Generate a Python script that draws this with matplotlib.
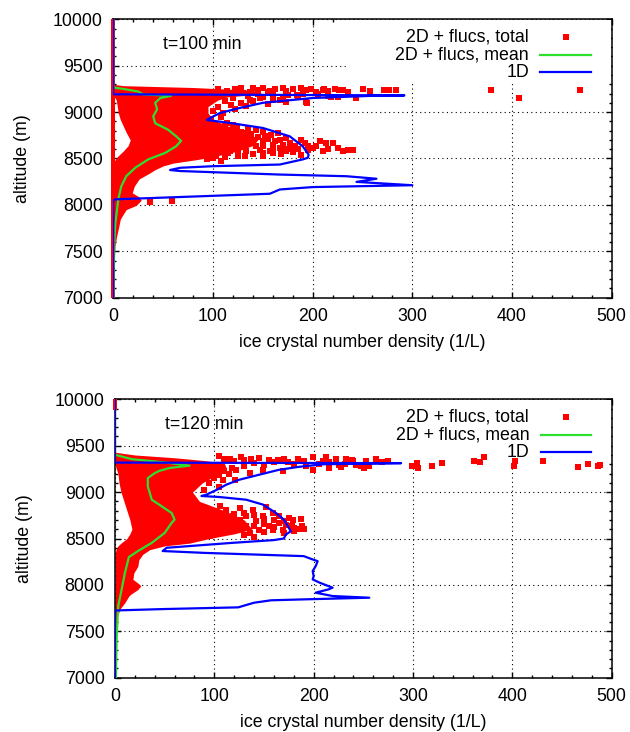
import matplotlib
matplotlib.use('Agg')
import matplotlib.pyplot as plt
from matplotlib.patches import Rectangle
from matplotlib.ticker import MultipleLocator

plt.rcParams['font.family'] = ['Liberation Sans', 'DejaVu Sans']
plt.rcParams['font.size'] = 12.8

RED = '#ff0000'
GREEN = '#2ee02e'
BLUE = '#0000ff'

# ---------------- panel labels ----------------
panel_titles = ['t=100 min', 't=120 min']
legend_labels = ['2D + flucs, total', '2D + flucs, mean', '1D']

# ---------------- top panel (t=100 min) ----------------
# dense part of the "2D + flucs, total" point cloud (envelope, altitude in m)
top_env_alt = [10000, 9300, 9285, 9265, 9235, 9195, 9165, 9130, 9060, 8990, 8920, 8850,
               8780, 8700, 8640, 8580, 8530, 8490, 8450, 8420, 8380, 8340, 8280, 8200,
               8130, 8085, 8050, 7995, 7950, 7900, 7845, 7740, 7665, 7560, 7400, 7000]
top_env_left = [0, 0, 0, 0, 0, 0, 1, 3, 4, 5, 7, 10, 13, 17, 15, 10, 5, 2] + [0] * 18
top_env_right = [0, 0, 10, 80, 140, 150, 115, 105, 95, 95, 100, 115, 135, 145, 140, 125, 105, 85,
                 60, 50, 42, 36, 26, 21, 19, 26, 28, 23, 13, 10, 7, 5, 3.4, 1.7, 1, 1]
top_strip_alt = [7000, 10000]

# scattered points of the total
top_pts_x = [105.2, 113.6, 121.9, 137, 145.3, 155.3, 173.7, 193.7, 203.7, 210.4, 222.1, 230.5,
             235.5, 243.8, 218.8, 193.7, 173.7, 155.3, 167, 137, 133.6, 121.9, 110.2, 147,
             123.6, 133.6, 143.6, 152, 158.7, 167, 173.7, 177, 182, 167, 157, 150.3, 143.6,
             137, 130.3, 120.2, 113.6, 117, 133.6, 147, 173.7, 192, 195.4, 203.7, 207.1,
             213.8, 220.4, 210.4, 230.5, 235.5, 240.5, 188.7, 160.3, 132, 125.3, 103.5, 93.5,
             113.6, 103.5, 150.3, 160.3,
             272, 277, 284, 379, 407.5, 468, 211, 194, 184, 157, 122.5, 36.8, 58.5,
             128, 140, 150, 162, 170, 180, 188, 198, 215, 226, 250, 258, 190, 175, 160, 145,
             130, 205, 215, 225, 185, 170, 160, 140, 128, 118, 150, 135, 120, 112, 105, 100,
             108, 98,
             112, 118, 128, 138, 145, 155, 162, 170, 178, 185, 160, 150, 140, 128, 122, 115,
             125, 140, 150, 168, 175, 195, 200, 188, 165, 150, 135, 120, 112, 100, 108, 180,
             215, 225]
top_pts_alt = [9248, 9223, 9248, 9212, 9233, 9212, 9223, 9233, 9212, 9241, 9248, 9233,
               9212, 9151, 9162, 9105, 9105, 9090, 9133, 9133, 9062, 9033, 8990, 9151,
               8829, 8775, 8811, 8739, 8757, 8704, 8722, 8668, 8632, 8614, 8578, 8560, 8632,
               8686, 8722, 8668, 8632, 8578, 8578, 8596, 8578, 8668, 8632, 8632, 8686,
               8668, 8668, 8578, 8578, 8596, 8589, 8543, 8560, 8525, 8525, 8525, 8496,
               8883, 8811, 8686, 8650,
               9241, 9234, 9241, 9233, 9147, 9233, 9248, 9098, 9187, 9230, 9248, 8034, 8041,
               9262, 9255, 9265, 9250, 9258, 9245, 9262, 9250, 9226, 9240, 9244, 9225, 9195,
               9180, 9200, 9190, 9210, 9190, 9175, 9165, 9160, 9150, 9130, 9120, 9100, 9080,
               9160, 9170, 9150, 9120, 9050, 9010, 8950, 8930,
               8850, 8800, 8790, 8760, 8730, 8710, 8690, 8650, 8640, 8600, 8610, 8640, 8700,
               8740, 8620, 8560, 8560, 8545, 8530, 8545, 8600, 8590, 8610, 8700, 8770, 8790,
               8830, 8860, 8520, 8500, 8470, 8570, 8600, 8610]

# mean of 2D + flucs
top_mean_alt = [10000, 9265, 9250, 9222, 9190, 9176, 9150, 9100, 9030, 8955, 8880, 8810, 8740,
                8690, 8632, 8560, 8490, 8400, 8310, 8200, 8060, 7916, 7800, 7600, 7300, 7000]
top_mean_x = [0, 0, 10, 25, 30, 58, 47, 42, 44, 40, 42, 55, 63,
              68, 63, 52, 35, 22, 13, 8, 5, 3.4, 2, 1, 0.5, 0.3]

# 1D model
top_1d_alt = [10000, 9192, 9180, 9178, 9152, 9100, 9045, 8990, 8930, 8915, 8883, 8829, 8739,
              8632, 8540, 8507, 8490, 8435, 8417, 8400, 8376, 8365, 8327, 8309, 8282, 8248,
              8212, 8192, 8166, 8120, 8085, 8060, 8045, 7000]
top_1d_x = [0, 0, 292, 267, 200, 150, 127, 107, 96, 94, 117, 150, 177,
            190, 196, 195, 190, 167, 100, 67, 57, 67, 167, 234, 264, 244,
            300, 200, 167, 157, 67, 2, 0, 0]

# ---------------- bottom panel (t=120 min) ----------------
bot_env_alt = [10000, 9760, 9430, 9400, 9370, 9340, 9310, 9260, 9200, 9100, 9000, 8900,
               8800, 8700, 8600, 8550, 8500, 8450, 8420, 8380, 8330, 8270, 8200, 8130,
               8060, 8020, 7990, 7950, 7900, 7880, 7810, 7740, 7665, 7560, 7400, 7000]
bot_env_left = [0, 0, 0, 0, 0, 0, 0, 1, 3, 4, 6, 9, 12, 15, 17, 15, 12, 6, 3, 1] + [0] * 16
bot_env_right = [0, 0, 0, 20, 60, 90, 110, 112, 105, 88, 78, 85, 110, 130, 138, 120, 95, 75,
                 50, 35, 28, 24, 23, 19, 18, 23, 26, 23, 16, 14, 10, 5, 2.7, 1.7, 1.2, 1]
bot_strip_alt = [9880, 10000]

bot_pts_x = [105, 115.4, 127, 137, 155.5, 163.8, 173.9, 183.9, 199, 209, 222.3, 232.4, 239,
             252.4, 262.5, 192, 199, 168.8, 148.8, 135.4, 122, 108.7, 120.4,
             242.4, 247.4, 250.7, 252.4, 255.8, 262.5, 269.2, 275.2, 299, 304.3, 305.3, 319.3,
             329.3, 361, 367.7, 371, 401.2, 402.9, 431.3, 465.7, 476.4, 486.4, 488,
             105.3, 125.4, 138.8, 152.1, 148.8, 158.8, 165.5, 175.5, 178.9, 187.2, 180.5,
             185.5, 165.5, 155.5, 145.4, 132, 125.4, 118.7, 115.4, 98.6, 95.3, 108.7, 135.4,
             158.8, 168.8, 172.2, 142.1, 132, 112, 102, 100, 95, 105, 90,
             110, 120, 130, 140, 145, 160, 170, 180, 190, 205, 215, 225, 240, 212, 150, 130,
             118, 110, 115, 105, 215, 228, 232,
             112, 120, 130, 140, 150, 160, 170, 118, 128, 140, 150, 160, 170, 180, 190, 110,
             122, 130, 140, 150, 105, 100, 178, 188]
bot_pts_alt = [9384, 9355, 9377, 9355, 9348, 9341, 9319, 9355, 9377, 9330, 9355, 9355, 9348,
               9276, 9355, 9276, 9240, 9223, 9240, 9205, 9240, 9133, 9133,
               9294, 9276, 9259, 9337, 9276, 9348, 9323, 9330, 9276, 9312, 9259, 9284,
               9312, 9330, 9319, 9373, 9284, 9337, 9330, 9266, 9302, 9276, 9287,
               8847, 8829, 8811, 8840, 8740, 8775, 8740, 8722, 8704, 8711, 8614,
               8603, 8668, 8632, 8596, 8632, 8704, 8740, 8578, 8543, 8525, 8560, 8560,
               8596, 8596, 8650, 8686, 8740, 8811, 8775, 9150, 9100, 9060, 9020,
               9360, 9330, 9345, 9310, 9370, 9320, 9360, 9300, 9340, 9300, 9320, 9290, 9330,
               9375, 9290, 9280, 9260, 9230, 9200, 9180, 9265, 9270, 9300,
               8800, 8760, 8780, 8750, 8710, 8700, 8690, 8670, 8650, 8640, 8660, 8620, 8560,
               8580, 8600, 8600, 8590, 8540, 8520, 8570, 8700, 8650, 8640, 8640]

bot_mean_alt = [10000, 9402, 9380, 9355, 9320, 9285, 9260, 9230, 9205, 9151, 9062, 8990, 8918,
                8847, 8775, 8704, 8668, 8560, 8453, 8364, 8300, 8131, 7952, 7773, 7665, 7415,
                7057, 7000]
bot_mean_x = [0, 0, 8, 17, 50, 75, 55, 45, 40, 33, 33, 35, 37,
              47, 57, 60, 57, 50, 37, 23, 14, 10, 6.7, 3.3, 2.7, 1.7, 1, 0.8]

bot_1d_alt = [10000, 9318, 9312, 9300, 9272, 9240, 9187, 9133, 9080, 9033, 8972, 8958, 8947,
              8918, 8865, 8775, 8704, 8614, 8578, 8543, 8500, 8483, 8453, 8400, 8365, 8345,
              8310, 8274, 8256, 8202, 8149, 8095, 8059, 8024, 7970, 7952, 7916, 7880, 7862,
              7844, 7834, 7808, 7758, 7740, 7725, 7715, 7000]
bot_1d_x = [0, 0, 288, 210, 185, 165, 145, 125, 112, 104, 92, 87, 105,
            132, 149, 162, 170, 175, 177, 172, 170, 160, 118, 52, 48, 90,
            190, 199, 204, 202, 199, 200, 199, 206, 219, 215, 202, 219, 256,
            190, 157, 140, 124, 50, 2, 0, 0]

x_ticks = [0, 100, 200, 300, 400, 500]
y_ticks = [7000, 7500, 8000, 8500, 9000, 9500, 10000]

fig = plt.figure(figsize=(6.3, 7.32), dpi=100)
ax_top = fig.add_axes([113.3 / 630, 1 - 297.7 / 732, (611.7 - 113.3) / 630, 278.4 / 732])
ax_bot = fig.add_axes([115.0 / 630, 1 - 677.7 / 732, (611.7 - 115.0) / 630, 278.4 / 732])


def draw_panel(ax, title, env_alt, env_l, env_r, strip_alt, px, palt, m_x, m_alt, d_x, d_alt):
    ax.set_axisbelow(True)
    # cloud of total values
    ax.fill_betweenx(env_alt, env_l, env_r, color=RED, lw=0, zorder=2)
    ax.fill_betweenx(strip_alt, -2.2, 2.2, color=RED, lw=0, zorder=3, clip_on=False)
    ax.plot(px, palt, 's', ms=3.8, mew=0, color=RED, zorder=2)
    ax.plot(m_x, m_alt, color=GREEN, lw=1.6, zorder=3.2)
    ax.plot(d_x, d_alt, color=BLUE, lw=1.6, zorder=4)

    ax.set_xlim(0, 500)
    ax.set_ylim(7000, 10000)
    ax.set_xticks(x_ticks)
    ax.set_yticks(y_ticks)
    ax.xaxis.set_minor_locator(MultipleLocator(20))
    ax.yaxis.set_minor_locator(MultipleLocator(100))
    ax.tick_params(which='both', direction='in', top=True, right=True, width=1.0)
    ax.tick_params(which='major', length=4.3, pad=7.5)
    ax.tick_params(which='minor', length=2.2)
    for s in ax.spines.values():
        s.set_linewidth(1.1)
    ax.grid(True, which='major', color='black', linestyle=(0, (1, 3)), linewidth=0.8)

    ax.set_xlabel('ice crystal number density (1/L)')
    ax.set_ylabel('altitude (m)')
    ax.xaxis.set_label_coords(0.5, -0.13)
    ax.yaxis.set_label_coords(-0.165, 0.5)

    ax.text(50, 9730, title, ha='left', va='center', zorder=5)

    # key box (opaque, hides the grid)
    ax.add_patch(Rectangle((0.471, 0.77), 0.527, 0.228, transform=ax.transAxes,
                           facecolor='white', edgecolor='none', zorder=1))
    ys = [0.936, 0.872, 0.810]
    for lab, y in zip(legend_labels, ys):
        ax.text(0.834, y, lab, transform=ax.transAxes, ha='right', va='center', zorder=5)
    ax.plot([0.908], [ys[0]], 's', ms=3.8, mew=0, color=RED, transform=ax.transAxes,
            zorder=5, clip_on=False)
    ax.plot([0.857, 0.959], [ys[1]] * 2, color=GREEN, lw=1.6, transform=ax.transAxes, zorder=5)
    ax.plot([0.857, 0.959], [ys[2]] * 2, color=BLUE, lw=1.6, transform=ax.transAxes, zorder=5)


draw_panel(ax_top, panel_titles[0], top_env_alt, top_env_left, top_env_right, top_strip_alt,
           top_pts_x, top_pts_alt, top_mean_x, top_mean_alt, top_1d_x, top_1d_alt)
draw_panel(ax_bot, panel_titles[1], bot_env_alt, bot_env_left, bot_env_right, bot_strip_alt,
           bot_pts_x, bot_pts_alt, bot_mean_x, bot_mean_alt, bot_1d_x, bot_1d_alt)

fig.savefig('out.png', dpi=100)
